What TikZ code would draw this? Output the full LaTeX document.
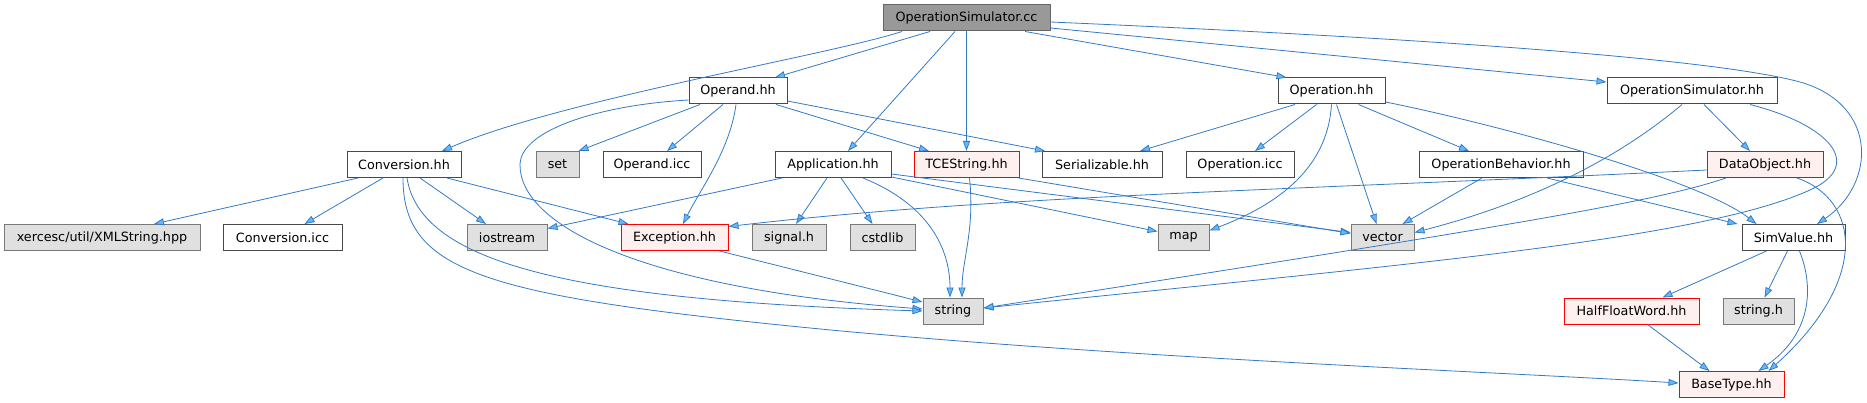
\documentclass[tikz,border=0pt]{standalone}
\usepackage{fontspec}
\setmainfont{DejaVu Sans}
\usepackage{xcolor}
\usepackage{tikz}
\usetikzlibrary{arrows.meta}
\definecolor{edgecolor}{RGB}{50,122,198}
\definecolor{arrowfill}{RGB}{99,184,255}
\definecolor{nodeborder}{RGB}{72,72,72}
\definecolor{extborder}{RGB}{120,120,120}
\tikzset{
  inc node/.style={
    rectangle,
    draw=nodeborder,
    fill=white,
    line width=1pt,
    minimum height=26pt,
    inner sep=0pt,
    font=\fontsize{12.75}{15}\selectfont
  },
  inc main/.style={
    inc node,
    fill=black!40,
    draw=black!60
  },
  inc ext/.style={
    inc node,
    fill=black!12,
    draw=extborder
  },
  inc red/.style={
    inc node,
    fill=red!6,
    draw=red
  },
  dep/.style={
    draw=edgecolor,
    line width=0.8pt,
    -{Triangle[length=10pt,width=7pt,fill=arrowfill]}
  }
}
\begin{document}
\begin{tikzpicture}[x=1pt,y=-1pt]
  \useasboundingbox (0,0) rectangle (1867,403);

  % Source file
  \node[inc main, minimum width=167pt] (cc) at (966.5,18) {OperationSimulator.cc};

  % Second row
  \node[inc node, minimum width=98pt] (opnd) at (738,91) {Operand.hh};
  \node[inc node, minimum width=107pt] (oper) at (1331.5,91) {Operation.hh};
  \node[inc node, minimum width=170pt] (opsimhh) at (1692,91) {OperationSimulator.hh};

  % Third row
  \node[inc node, minimum width=114pt] (conv) at (404,164.5) {Conversion.hh};
  \node[inc ext, minimum width=43pt] (set) at (557.5,164.5) {set};
  \node[inc node, minimum width=98pt] (opndicc) at (652,164.5) {Operand.icc};
  \node[inc node, minimum width=116pt] (app) at (833,164.5) {Application.hh};
  \node[inc red, minimum width=105pt] (tcestr) at (966.5,164.5) {TCEString.hh};
  \node[inc node, minimum width=120pt] (serial) at (1102,164.5) {Serializable.hh};
  \node[inc node, minimum width=108pt] (opericc) at (1240,164.5) {Operation.icc};
  \node[inc node, minimum width=164pt] (opbeh) at (1501,164.5) {OperationBehavior.hh};
  \node[inc red, minimum width=116pt] (dataobj) at (1765,164.5) {DataObject.hh};

  % Fourth row
  \node[inc ext, minimum width=196pt] (xmlstr) at (102,237.5) {xercesc/util/XMLString.hpp};
  \node[inc node, minimum width=119pt] (convicc) at (282.5,237.5) {Conversion.icc};
  \node[inc ext, minimum width=80pt] (iostr) at (507,237.5) {iostream};
  \node[inc red, minimum width=107pt] (excep) at (674.5,237.5) {Exception.hh};
  \node[inc ext, minimum width=74pt] (signal) at (789,237.5) {signal.h};
  \node[inc ext, minimum width=65pt] (cstdlib) at (882.5,237.5) {cstdlib};
  \node[inc ext, minimum width=51pt] (map) at (1183.5,237.5) {map};
  \node[inc ext, minimum width=63pt] (vector) at (1382.5,237.5) {vector};
  \node[inc node, minimum width=103pt] (simval) at (1793.5,237.5) {SimValue.hh};

  % Bottom rows
  \node[inc ext, minimum width=60pt] (string) at (953,311) {string};
  \node[inc red, minimum width=135pt] (halff) at (1631.5,311) {HalfFloatWord.hh};
  \node[inc ext, minimum width=71pt] (stringh) at (1758.5,311) {string.h};
  \node[inc red, minimum width=105pt] (basetype) at (1731.5,384.5) {BaseType.hh};

  % From OperationSimulator.cc
  \draw[dep] ([xshift=-64.5pt]cc.south) .. controls (830,55) and (560,100) .. ([xshift=38pt]conv.north);
  \draw[dep] ([xshift=-36.5pt]cc.south) -- ([xshift=37pt]opnd.north);
  \draw[dep] ([xshift=-11.5pt]cc.south) -- ([xshift=15pt]app.north);
  \draw[dep] (cc.south) -- (tcestr.north);
  \draw[dep] ([xshift=58.5pt]cc.south) -- ([xshift=-45pt]oper.north);
  \draw[dep] ([yshift=-10pt]cc.east) -- ([yshift=9pt]opsimhh.west);
  \draw[dep] ([yshift=-4pt]cc.east) .. controls (1350,35) and (1700,55) .. (1800,82)
    .. controls (1880,105) and (1875,185) .. ([xshift=23.5pt]simval.north);

  % From Operand.hh
  \draw[dep] ([yshift=-9pt]opnd.west) .. controls (600,105) and (520,130) .. (520,165)
    .. controls (520,225) and (640,288) .. ([yshift=2pt]string.west);
  \draw[dep] ([xshift=-38pt]opnd.south) -- ([xshift=21pt]set.north);
  \draw[dep] ([xshift=-15pt]opnd.south) -- ([xshift=15pt]opndicc.north);
  \draw[dep] ([xshift=-2pt]opnd.south) .. controls (730,150) and (700,190) .. ([xshift=8.5pt]excep.north);
  \draw[dep] ([xshift=38pt]opnd.south) -- ([xshift=-37.5pt]tcestr.north);
  \draw[dep] ([yshift=-10pt]opnd.east) -- ([xshift=-57pt]serial.north);

  % From Conversion.hh
  \draw[dep] ([xshift=-46pt]conv.south) -- ([xshift=52pt]xmlstr.north);
  \draw[dep] ([xshift=-21pt]conv.south) -- ([xshift=22pt]convicc.north);
  \draw[dep] ([xshift=16pt]conv.south) -- ([xshift=-21pt]iostr.north);
  \draw[dep] ([xshift=43pt]conv.south) -- ([xshift=-46pt]excep.north);
  \draw[dep] ([xshift=3pt]conv.south) .. controls (420,260) and (560,300) .. (string.west);
  \draw[dep] ([xshift=-1pt]conv.south) .. controls (403,270) and (480,295) .. (800,327)
    .. controls (1100,357) and (1500,372) .. ([yshift=1.5pt]basetype.west);

  % From Application.hh
  \draw[dep] ([xshift=-51pt]app.south) -- ([yshift=9pt]iostr.east);
  \draw[dep] ([xshift=-6pt]app.south) -- ([xshift=7pt]signal.north);
  \draw[dep] ([xshift=8pt]app.south) -- ([xshift=-10pt]cstdlib.north);
  \draw[dep] ([xshift=30pt]app.south) .. controls (930,205) and (950,250) .. ([xshift=-3pt]string.north);
  \draw[dep] ([yshift=1pt]app.south east) -- ([yshift=6pt]map.west);
  \draw[dep] ([yshift=4pt]app.south east) -- ([yshift=5pt]vector.west);

  % From TCEString.hh and Exception.hh
  \draw[dep] ([xshift=-1pt]tcestr.south east) -- ([yshift=4pt]vector.west);
  \draw[dep] ([xshift=3pt]tcestr.south) .. controls (975,230) and (962,260) .. ([xshift=9pt]string.north);
  \draw[dep] ([xshift=45pt]excep.south) -- ([yshift=9pt]string.west);

  % From Operation.hh
  \draw[dep] ([xshift=-36.5pt]oper.south) -- ([xshift=38pt]serial.north);
  \draw[dep] ([xshift=-15pt]oper.south) -- ([xshift=15pt]opericc.north);
  \draw[dep] (oper.south) .. controls (1328,160) and (1290,200) .. ([yshift=7pt]map.east);
  \draw[dep] ([xshift=5pt]oper.south) -- ([xshift=-6pt]vector.north);
  \draw[dep] ([xshift=27pt]oper.south) -- ([xshift=-32pt]opbeh.north);
  \draw[dep] ([yshift=-11pt]oper.east) .. controls (1500,125) and (1700,180) .. ([xshift=-37pt]simval.north);

  % From OperationSimulator.hh
  \draw[dep] ([xshift=-10pt]opsimhh.south) .. controls (1640,140) and (1560,195) .. ([yshift=5pt]vector.east);
  \draw[dep] ([xshift=12pt]opsimhh.south) -- ([xshift=-15pt]dataobj.north);
  \draw[dep] ([xshift=58pt]opsimhh.south) .. controls (1830,125) and (1865,165) .. (1810,190)
    .. controls (1700,240) and (1400,265) .. ([yshift=3pt]string.east);

  % From OperationBehavior.hh
  \draw[dep] ([xshift=-19pt]opbeh.south) -- ([xshift=20pt]vector.north);
  \draw[dep] ([xshift=46pt]opbeh.south) -- ([xshift=-56pt]simval.north);

  % From DataObject.hh
  \draw[dep] ([yshift=-5.5pt]dataobj.west) .. controls (1300,190) and (1000,195) .. ([yshift=11pt]excep.east);
  \draw[dep] ([xshift=-39pt]dataobj.south) .. controls (1660,200) and (1550,220) .. ([yshift=3pt]string.east);
  \draw[dep] ([xshift=32pt]dataobj.south) .. controls (1860,200) and (1870,280) .. ([xshift=37pt]basetype.north);

  % From SimValue.hh and HalfFloatWord.hh
  \draw[dep] ([xshift=-27pt]simval.south) -- ([xshift=31pt]halff.north);
  \draw[dep] ([xshift=-6pt]simval.south) -- ([xshift=6pt]stringh.north);
  \draw[dep] ([xshift=6pt]simval.south) .. controls (1815,290) and (1810,335) .. ([xshift=27pt]basetype.north);
  \draw[dep] ([xshift=16pt]halff.south) -- ([xshift=-22pt]basetype.north);

\end{tikzpicture}
\end{document}
